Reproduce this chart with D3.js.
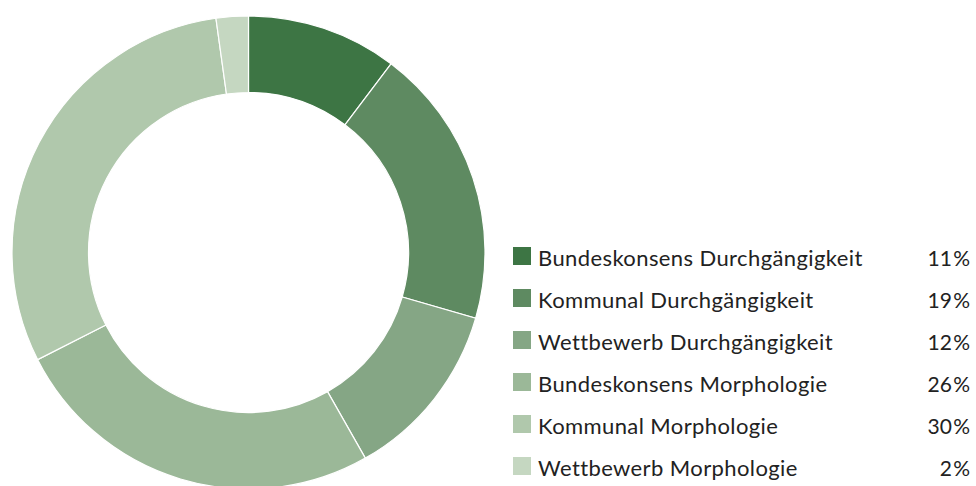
<!DOCTYPE html>
<html>
<head>
<meta charset="utf-8">
<script src="https://cdn.jsdelivr.net/npm/d3@7"></script>
<style>
  html, body { margin: 0; padding: 0; background: #fff; }
  svg { display: block; }
  text { font-family: Lato, "Noto Sans", sans-serif; fill: #222; }
</style>
</head>
<body>
<svg id="chart" width="976" height="486"></svg>
<script>
const categories = [
  "Bundeskonsens Durchgängigkeit",
  "Kommunal Durchgängigkeit",
  "Wettbewerb Durchgängigkeit",
  "Bundeskonsens Morphologie",
  "Kommunal Morphologie",
  "Wettbewerb Morphologie"
];
const values = [10.3, 19.2, 12.3, 25.75, 30.3, 2.2];
const percentLabels = ["11\u200a%", "19\u200a%", "12\u200a%", "26\u200a%", "30\u200a%", "2\u200a%"];
const colors = ["#3d7544", "#5e8a61", "#85a685", "#9bb898", "#b0c8ac", "#c5d7c1"];

const svg = d3.select("#chart");
const cx = 248.5, cy = 252.5, outerR = 236.5, innerR = 160;

const pie = d3.pie().sort(null).value(d => d)(values);
const arc = d3.arc().innerRadius(innerR).outerRadius(outerR);

svg.append("g")
  .attr("transform", `translate(${cx},${cy})`)
  .selectAll("path")
  .data(pie)
  .join("path")
  .attr("d", arc)
  .attr("fill", (d, i) => colors[i])
  .attr("stroke", "#fff")
  .attr("stroke-width", 1.2);

const y = d3.scalePoint().domain(d3.range(categories.length)).range([256, 466]);
const legend = svg.append("g");
const rows = legend.selectAll("g").data(categories).join("g")
  .attr("transform", (d, i) => `translate(0,${y(i)})`);
rows.append("rect")
  .attr("x", 513).attr("y", -9).attr("width", 18).attr("height", 18)
  .attr("fill", (d, i) => colors[i]);
rows.append("text")
  .attr("x", 538).attr("y", 1)
  .attr("dominant-baseline", "central")
  .style("font-size", "22px")
  .style("letter-spacing", "0.4px")
  .text(d => d);
rows.append("text")
  .attr("x", 970).attr("y", 1)
  .attr("dominant-baseline", "central")
  .attr("text-anchor", "end")
  .style("font-size", "21px")
  .text((d, i) => percentLabels[i]);
</script>
</body>
</html>
